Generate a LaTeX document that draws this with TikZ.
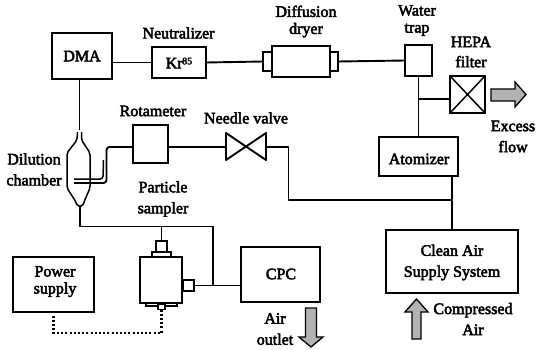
\documentclass[tikz,border=0pt]{standalone}
\usepackage{fontspec}
\newfontfamily\labfont[FakeBold=3]{Liberation Serif}
\tikzset{
  box/.style={draw=black,line width=1.9pt,inner sep=0pt,outer sep=0pt,fill=white,minimum width=#1},
  box/.default=40pt,
  lab/.style={font=\labfont\fontsize{16}{21}\selectfont,align=center,inner sep=0pt},
  pipe/.style={line width=1.9pt,line join=round},
  thin pipe/.style={line width=1.5pt,line join=round},
  flow/.style={draw=black,line width=1.3pt,fill=black!30,line join=miter},
  wire/.style={line width=2.3pt,dash pattern=on 2pt off 2.2pt}
}
\begin{document}
\begin{tikzpicture}[x=1pt,y=-1pt]
\useasboundingbox (0,0) rectangle (540,350);
% boxes
\node[box=60pt,minimum height=46pt] (dma) at (82,56) {};
\node[box=54pt,minimum height=31pt] (kr) at (179,62.5) {};
\node[box=58pt,minimum height=31pt] (dryer) at (301,61.5) {};
\node[box=9pt,minimum height=19pt] (capl) at (267.5,61.5) {};
\node[box=8pt,minimum height=19pt] (capr) at (334,61.5) {};
\node[box=27pt,minimum height=31pt] (trap) at (418.5,60.5) {};
\node[box=35pt,minimum height=37pt] (hepa) at (467.5,94.5) {};
\node[box=79pt,minimum height=39pt] (atom) at (418.5,156.5) {};
\node[box=132pt,minimum height=63pt] (clean) at (452,261.5) {};
\node[box=79pt,minimum height=55pt] (cpc) at (280.5,274.5) {};
\node[box=35pt,minimum height=38pt] (rota) at (150.5,144) {};
\node[box=81pt,minimum height=55pt] (power) at (53.5,284.5) {};
\node[box=42pt,minimum height=46pt] (sampler) at (161,280) {};
\node[box=19pt,minimum height=5pt] (plate) at (161.5,254.5) {};
\node[box=11pt,minimum height=11pt] (inlet) at (161.5,246.5) {};
\node[box=11pt,minimum height=11pt] (port) at (188.5,285.5) {};
\node[box=31pt,minimum height=3pt] (base) at (161.5,304.5) {};
\node[box=7pt,minimum height=5pt] (nub) at (161.5,307) {};
% HEPA cross
\draw[thin pipe] (hepa.north west) -- (hepa.south east) (hepa.north east) -- (hepa.south west);
% needle valve
\coordinate (vl) at (226,147);
\coordinate (vr) at (266,147);
\draw[pipe] (226,133) -- (266,160) -- (266,133) -- (226,160) -- cycle;
% dilution chamber
\coordinate (chtop) at (79.5,130);
\coordinate (chbot) at (80,207);
\draw[thin pipe,rounded corners=2pt] (77.5,132) -- (77,140) -- (67,153) -- (67,188) -- (76,202) -- (77,206) -- (83,206) -- (84,202) -- (90,188) -- (90,153) -- (81.5,140) -- (81.5,132);
% tube entering the chamber
\coordinate (tubein) at (74,183);
\coordinate (tubeup) at (106.5,147);
\draw[pipe,rounded corners=3pt] (rota.west |- tubeup) -- (tubeup) -- (106.5,183) -- (tubein);
\draw[thin pipe,rounded corners=3pt] (74,179) -- (103,179) -- (103.5,160);
% junctions
\coordinate (j1) at (288.5,200);
\coordinate (j2) at (452,200);
\coordinate (j3) at (80,226.5);
\coordinate (j4) at (213,226.5);
\coordinate (j5) at (213,285.5);
\coordinate (j6) at (161.5,226.5);
\coordinate (j7) at (419,99);
\coordinate (wcor1) at (161.5,333);
\coordinate (wcor2) at (53.5,333);
% connectors
\draw[pipe] (dma.east |- kr.west) -- (kr.west);
\draw[pipe] (kr.east) -- (capl.west);
\draw[pipe] (capr.east) -- (trap.west);
\draw[pipe] (trap.south) -- (trap.south |- atom.north);
\draw[pipe] (j7) -- (j7 -| hepa.west);
\draw[pipe] (chtop |- dma.south) -- (chtop);
\draw[pipe] (rota.east |- vl) -- (vl);
\draw[pipe] (vr) -- (j1 |- vr) -- (j1) -- (j2);
\draw[pipe] (j2 |- atom.south) -- (j2 |- clean.north);
\draw[pipe] (chbot) -- (j3) -- (j4) -- (j5);
\draw[pipe] (j6) -- (inlet.north);
\draw[pipe] (port.east) -- (cpc.west |- port.east);
\draw[wire] (nub.south) -- (wcor1) -- (wcor2) -- (power.south);
% flow arrows
\draw[flow] (491,89) -- (515,89) -- (515,82) -- (526,94.5) -- (515,107) -- (515,101) -- (491,101) -- cycle;
\draw[flow] (305.5,308) -- (316.5,308) -- (316.5,337) -- (323,337) -- (311,347) -- (299,337) -- (305.5,337) -- cycle;
\draw[flow] (412,339) -- (421,339) -- (421,312) -- (428,312) -- (416.5,299) -- (405,312) -- (412,312) -- cycle;
% labels
\node[lab] (tdma) at (82,56) {DMA};
\node[lab] (tkr) at (179,63) {Kr\kern-0.5pt\raisebox{4pt}{\fontsize{10}{10}\selectfont 85}};
\node[lab] (tneu) at (178.5,33) {Neutralizer};
\node[lab] (tdry) at (306,21.5) {Diffusion\\[-4pt]dryer};
\node[lab] (ttrap) at (417,20.5) {Water\\[-4pt]trap};
\node[lab] (thepa) at (471,52) {HEPA\\[-1pt]filter};
\node[lab] (texc) at (513,136.5) {Excess\\flow};
\node[lab] (trot) at (153,111) {Rotameter};
\node[lab] (tval) at (246,118) {Needle valve};
\node[lab] (tatom) at (419,159) {Atomizer};
\node[lab] (tdil) at (34,169.5) {Dilution\\chamber};
\node[lab] (tpar) at (163,199) {Particle\\sampler};
\node[lab] (tpow) at (55,281.5) {Power\\[-4pt]supply};
\node[lab] (tcpc) at (281,274) {CPC};
\node[lab] (tair) at (275,329) {Air\\outlet};
\node[lab] (tcln) at (452,262.5) {Clean Air\\Supply System};
\node[lab] (tcmp) at (473,319) {Compressed\\Air};
\end{tikzpicture}
\end{document}
